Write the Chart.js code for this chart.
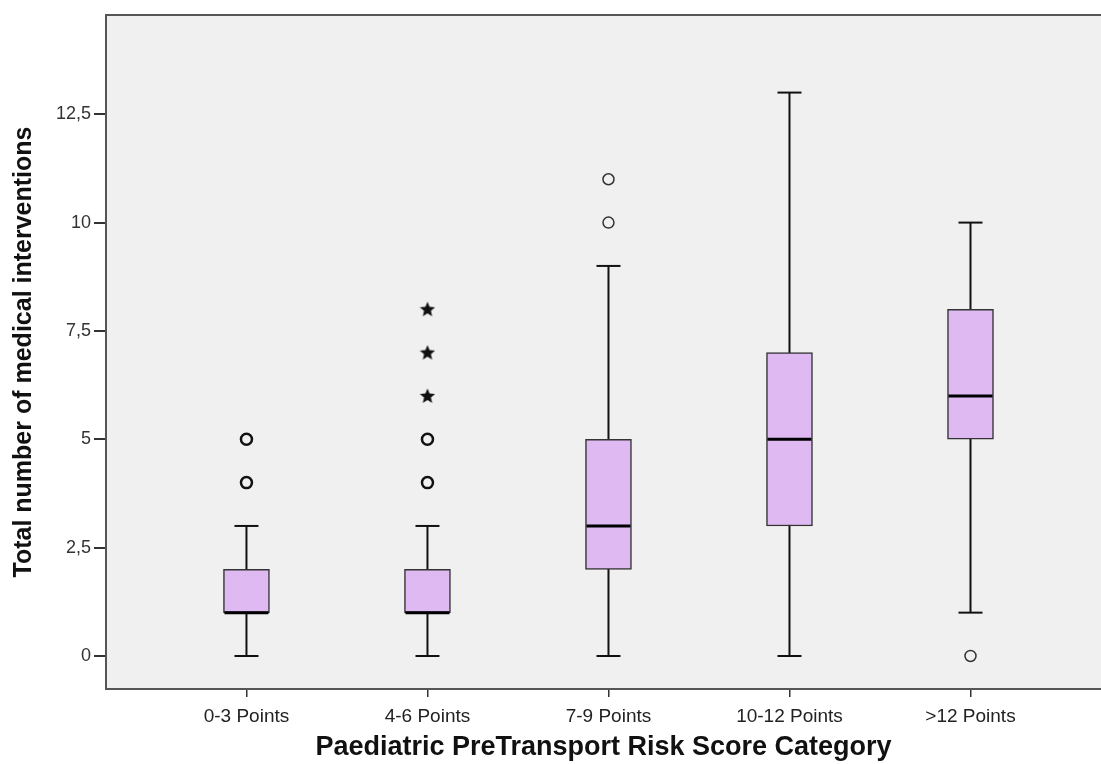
<!DOCTYPE html>
<html>
<head>
<meta charset="utf-8">
<script src="https://cdn.jsdelivr.net/npm/chart.js@4.4.1/dist/chart.umd.min.js"></script>
<style>
  html, body { margin: 0; padding: 0; background: #ffffff; overflow: hidden; }
  canvas { display: block; }
</style>
</head>
<body>
<canvas id="boxChart" width="1101" height="764"></canvas>
<script>
// categories and five-number summaries
const categories = ['0-3 Points', '4-6 Points', '7-9 Points', '10-12 Points', '>12 Points'];
const whiskerLow = [0, 0, 0, 0, 1];
const q1 = [1, 1, 2, 3, 5];
const median = [1, 1, 3, 5, 6];
const q3 = [2, 2, 5, 7, 8];
const whiskerHigh = [3, 3, 9, 13, 10];

// outliers: [category index, value]
const repeatedOutliers = [[0, 4], [0, 5], [1, 4], [1, 5]];
const singleOutliers = [[2, 10], [2, 11], [4, 0]];
const extremeOutliers = [[1, 6], [1, 7], [1, 8]];

const yTicks = [0, 2.5, 5, 7.5, 10, 12.5];

// five pointed star used for extreme values
function makeStar(size) {
    const c = document.createElement('canvas');
    c.width = size; c.height = size;
    const g = c.getContext('2d');
    const cx = size / 2, cy = size / 2 + 0.5;
    const outer = size / 2, inner = outer * 0.45;
    g.beginPath();
    for (let i = 0; i < 10; i++) {
        const r = i % 2 === 0 ? outer : inner;
        const a = -Math.PI / 2 + i * Math.PI / 5;
        const px = cx + r * Math.cos(a), py = cy + r * Math.sin(a);
        if (i === 0) g.moveTo(px, py); else g.lineTo(px, py);
    }
    g.closePath();
    g.fillStyle = '#111';
    g.fill();
    return c;
}
const starImg = makeStar(16);

const toPoints = arr => arr.map(([i, v]) => ({ x: i, y: v }));

// whiskers, caps, medians and the top frame line
const boxExtras = {
    id: 'boxExtras',
    beforeDatasetsDraw(chart) {
        const { ctx, scales: { x, y } } = chart;
        ctx.save();
        ctx.strokeStyle = '#111';
        ctx.lineWidth = 2;
        categories.forEach((c, i) => {
            const px = x.getPixelForValue(i);
            ctx.beginPath();
            ctx.moveTo(px, y.getPixelForValue(whiskerLow[i]));
            ctx.lineTo(px, y.getPixelForValue(whiskerHigh[i]));
            ctx.stroke();
            [whiskerLow[i], whiskerHigh[i]].forEach(v => {
                const py = y.getPixelForValue(v);
                ctx.beginPath();
                ctx.moveTo(px - 12, py);
                ctx.lineTo(px + 12, py);
                ctx.stroke();
            });
        });
        ctx.restore();
    },
    afterDatasetsDraw(chart) {
        const { ctx, scales: { x, y }, chartArea } = chart;
        ctx.save();
        ctx.strokeStyle = '#000';
        ctx.lineWidth = 3;
        categories.forEach((c, i) => {
            const px = x.getPixelForValue(i);
            const py = y.getPixelForValue(median[i]);
            ctx.beginPath();
            ctx.moveTo(px - 22, py);
            ctx.lineTo(px + 22, py);
            ctx.stroke();
        });
        ctx.strokeStyle = '#555';
        ctx.lineWidth = 2;
        ctx.beginPath();
        ctx.moveTo(chartArea.left, chartArea.top);
        ctx.lineTo(chartArea.right, chartArea.top);
        ctx.stroke();
        ctx.restore();
    }
};

const plotBackground = {
    id: 'plotBackground',
    beforeDraw(chart) {
        const { ctx, chartArea: a } = chart;
        ctx.save();
        ctx.fillStyle = '#f0f0f0';
        ctx.fillRect(a.left, a.top, a.right - a.left, a.bottom - a.top);
        ctx.restore();
    }
};

new Chart(document.getElementById('boxChart'), {
    data: {
        datasets: [
            {
                type: 'bar',
                data: categories.map((c, i) => ({ x: i, y: [q1[i], q3[i]] })),
                backgroundColor: '#dfb9f2',
                borderColor: '#333',
                borderWidth: 1.5,
                borderSkipped: false,
                barThickness: 46,
                order: 2
            },
            {
                type: 'scatter',
                data: toPoints(repeatedOutliers),
                pointStyle: 'circle',
                pointRadius: 5.5,
                borderWidth: 2.5,
                borderColor: '#111',
                backgroundColor: '#f0f0f0',
                order: 1
            },
            {
                type: 'scatter',
                data: toPoints(singleOutliers),
                pointStyle: 'circle',
                pointRadius: 5.5,
                borderWidth: 1.5,
                borderColor: '#333',
                backgroundColor: '#f0f0f0',
                order: 1
            },
            {
                type: 'scatter',
                data: toPoints(extremeOutliers),
                pointStyle: starImg,
                pointRadius: 8,
                order: 1
            }
        ]
    },
    options: {
        responsive: false,
        animation: false,
        layout: { autoPadding: false, padding: { top: 15, right: 0, left: 0, bottom: 0 } },
        plugins: {
            legend: { display: false },
            tooltip: { enabled: false }
        },
        scales: {
            x: {
                type: 'linear',
                offset: false,
                min: -0.776,
                max: 4.721,
                afterBuildTicks: axis => { axis.ticks = categories.map((c, i) => ({ value: i })); },
                afterFit: axis => { axis.height = 75; axis.paddingRight = 0; axis.paddingLeft = 0; },
                ticks: {
                    callback: v => categories[v],
                    color: '#222',
                    font: { family: "'Liberation Sans', Arial", size: 19 },
                    padding: 8,
                    maxRotation: 0,
                    autoSkip: false
                },
                grid: { offset: false, drawOnChartArea: false, drawTicks: true, tickLength: 8, color: '#333', lineWidth: 1.5 },
                border: { display: true, color: '#555', width: 2 },
                title: {
                    display: true,
                    text: 'Paediatric PreTransport Risk Score Category',
                    color: '#111',
                    font: { family: "'Liberation Sans', Arial", size: 27, weight: 'bold' },
                    padding: { top: 0, bottom: 0 }
                }
            },
            y: {
                type: 'linear',
                min: -0.762,
                max: 14.79,
                afterBuildTicks: axis => { axis.ticks = yTicks.map(v => ({ value: v })); },
                afterFit: axis => { axis.width = 106; },
                ticks: {
                    callback: v => String(v).replace('.', ','),
                    color: '#333',
                    font: { family: "'Liberation Sans', Arial", size: 18 },
                    padding: 3
                },
                grid: { drawOnChartArea: false, drawTicks: true, tickLength: 12, color: '#333', lineWidth: 2 },
                border: { display: true, color: '#555', width: 2 },
                title: {
                    display: true,
                    text: 'Total number of medical interventions',
                    color: '#111',
                    font: { family: "'Liberation Sans', Arial", size: 25, weight: 'bold' },
                    padding: { top: 9, bottom: 0 }
                }
            }
        }
    },
    plugins: [plotBackground, boxExtras]
});
</script>
</body>
</html>
